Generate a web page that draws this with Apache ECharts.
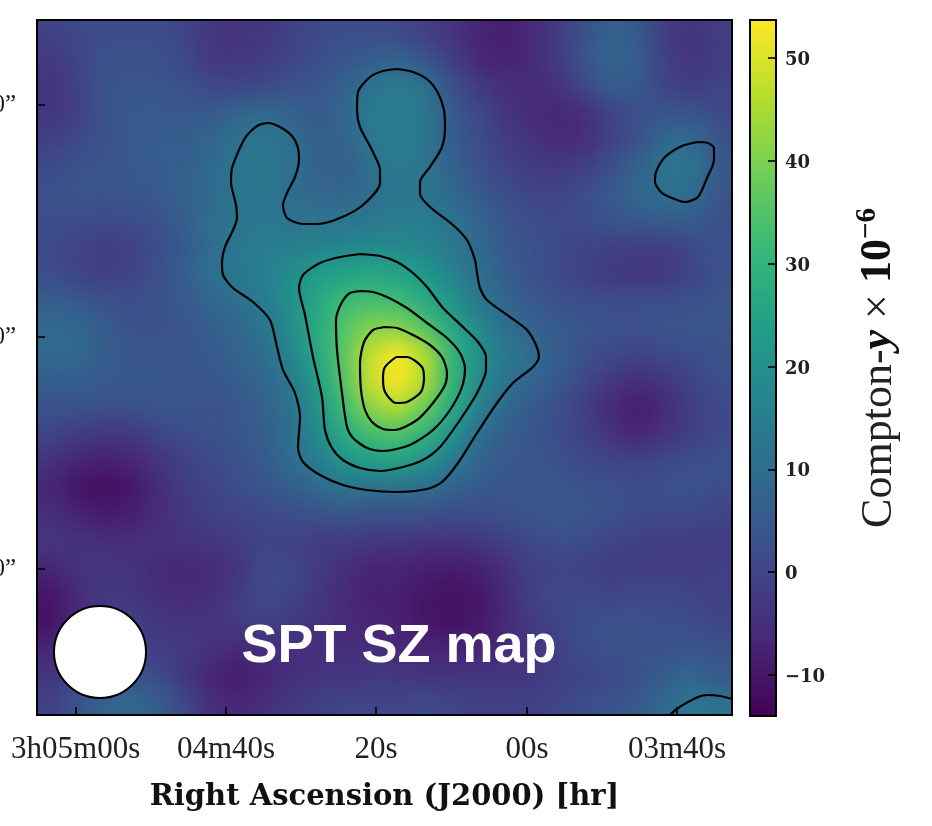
<!DOCTYPE html>
<html><head><meta charset="utf-8">
<style>
html,body{margin:0;padding:0;background:#fff;width:932px;height:826px;overflow:hidden}
#clip{position:absolute;left:37px;top:20px;width:695px;height:695px;overflow:hidden;background:#39568c}
#map{position:absolute;left:-27px;top:-27px;width:749px;height:749px;filter:blur(11px)}
#chart{position:absolute;left:0;top:0;width:932px;height:826px}
</style>
<script src="https://cdn.jsdelivr.net/npm/echarts@6/dist/echarts.min.js"></script>
</head><body>
<div id="clip"><div id="map"></div></div>
<div id="chart"></div>
<script>
// Compton-y (x 1e-6), rows top to bottom, columns left to right
const comptonRows = [
[0,0,1,2,2,2,0,-3,-4,-3,-1,1,2,2,1,-1,-4,-7,-8,-6,-2,3,6,4,-2,-3,-2,0],
[0,-1,1,2,2,2,0,-3,-4,-3,-1,1,2,2,1,-1,-4,-7,-8,-6,-2,3,7,5,-2,-4,-2,0],
[-2,-3,0,3,3,3,1,-3,-3,-2,0,2,4,6,8,4,-1,-6,-8,-6,-2,4,8,6,-1,-4,-2,-1],
[-3,-4,-1,3,4,4,3,1,0,1,3,4,7,12,14,12,3,-2,-5,-6,-4,1,6,5,0,-2,0,0],
[-3,-4,-1,3,5,5,5,5,8,10,7,5,8,14,15,13,6,1,-3,-6,-7,-5,0,2,4,4,1,0],
[-1,-1,1,3,5,6,6,8,11,13,11,6,7,13,15,13,6,2,-2,-4,-6,-5,-1,3,9,10,4,2],
[1,1,3,4,5,6,6,9,12,14,11,7,6,11,14,12,7,3,0,-2,-3,-1,3,7,12,12,5,3],
[3,3,4,4,4,5,7,9,12,13,10,8,8,10,13,12,9,5,2,0,0,2,5,8,11,10,4,3],
[2,2,2,1,2,3,6,10,12,13,12,12,12,13,14,14,12,8,4,2,1,2,4,5,6,6,3,2],
[1,1,0,-2,-1,2,5,10,13,15,15,16,17,18,18,17,13,9,5,3,1,0,-1,-2,-2,1,3,3],
[2,2,0,-2,0,3,6,11,13,15,19,23,25,26,25,22,17,11,6,3,1,-1,-3,-3,-3,0,3,3],
[6,6,5,3,2,3,5,8,11,14,20,26,32,33,32,27,21,13,8,5,3,2,2,2,2,3,4,4],
[9,9,9,6,3,3,4,6,8,12,19,27,35,41,41,35,26,18,11,7,5,4,3,3,4,4,4,4],
[9,9,9,6,4,4,4,5,7,10,17,26,36,48,54,46,30,20,14,10,6,3,1,0,1,2,3,3],
[6,6,6,5,5,5,4,4,6,8,13,23,35,49,58,46,30,19,12,8,5,1,-3,-5,-3,0,3,3],
[3,3,3,3,3,4,4,3,4,7,11,20,32,42,46,38,27,16,9,5,2,-2,-6,-9,-6,-2,1,1],
[0,0,-2,-3,-3,0,2,3,4,6,11,18,27,33,34,29,21,11,6,4,2,-1,-4,-7,-4,-1,1,1],
[-4,-4,-7,-8,-7,-4,-1,1,3,5,10,15,21,24,25,21,14,8,5,4,3,1,0,0,1,2,3,3],
[-7,-7,-10,-12,-10,-6,-2,0,2,4,6,9,12,11,11,10,7,5,4,4,4,3,3,2,3,3,2,2],
[-5,-5,-7,-9,-8,-6,-3,-1,0,1,2,3,4,3,3,3,2,2,3,4,5,4,3,1,1,1,0,0],
[-3,-3,-4,-5,-5,-4,-4,-3,-2,0,-1,-2,-2,-3,-3,-4,-4,-3,-1,1,2,2,0,-1,-2,-2,-2,-2],
[-7,-7,-4,-3,-4,-6,-7,-6,-4,1,1,-2,-5,-7,-7,-8,-9,-8,-5,-1,0,-1,-2,-2,-2,-2,-1,-1],
[-10,-10,-6,-3,-3,-5,-6,-5,-2,1,0,-3,-6,-8,-8,-10,-11,-10,-6,-1,1,1,0,1,1,0,-1,-1],
[-11,-11,-6,-2,-1,-3,-4,-4,-2,0,-2,-4,-6,-7,-8,-10,-11,-10,-6,-2,0,2,3,3,2,2,0,0],
[-7,-7,-3,1,0,-2,-2,-4,-6,-6,-5,-5,-5,-5,-6,-7,-7,-7,-6,-4,-1,2,3,3,3,4,3,3],
[-4,-4,1,3,3,2,-3,-7,-9,-7,-5,-4,-4,-3,-3,-4,-4,-4,-3,-3,-1,0,1,3,6,8,5,5],
[-1,-1,3,7,9,6,1,-5,-7,-5,-3,-1,0,0,0,1,0,-1,-1,-1,0,2,3,5,9,13,11,11],
[0,0,4,8,10,7,2,-4,-6,-4,-2,0,1,1,1,2,1,0,0,0,1,3,4,6,10,14,12,12]
];
const valueMin = -14, valueMax = 53.7;
const viridis = ['#440154','#482878','#3e4989','#31688e','#26828e','#1f9e89','#35b779','#6ece58','#b5de2b','#fde725'];

// contour lines, in map units (0..695 on both axes)
const contourOuter = [[360,646],[376,643],[391,635],[401,622],[407,605],[408,588],[405,568],[393,548],[383,533],[383,521],[393,508],[416,490],[430,475],[438,455],[440,442],[443,427],[450,415],[473,398],[490,385],[499,370],[502,358],[496,348],[476,332],[460,312],[440,282],[421,252],[405,233],[390,226],[360,223],[330,225],[306,230],[283,240],[266,253],[261,267],[263,298],[258,322],[246,345],[240,368],[233,395],[216,413],[196,427],[186,440],[185,452],[188,468],[200,497],[199,510],[194,533],[195,547],[208,577],[220,589],[231,592],[243,588],[255,579],[261,567],[262,555],[258,538],[250,522],[246,510],[250,497],[266,491],[280,491],[303,497],[326,510],[343,532],[343,545],[335,565],[323,588],[320,605],[321,623],[333,638],[346,644],[360,646]];
const contourSecond = [[323,461],[343,459],[360,453],[376,442],[390,428],[406,407],[426,388],[441,373],[449,358],[449,345],[440,322],[423,295],[403,268],[386,255],[366,248],[343,244],[323,247],[306,255],[295,267],[288,285],[285,318],[276,358],[268,400],[262,427],[266,440],[283,452],[303,458],[323,461]];
const contourThird = [[326,424],[336,423],[350,418],[370,407],[390,392],[410,377],[423,362],[428,347],[425,328],[413,305],[396,285],[373,270],[346,264],[330,267],[316,277],[310,288],[305,322],[300,365],[299,395],[305,413],[313,422],[326,424]];
const contourFourth = [[348,388],[360,387],[376,380],[393,370],[405,358],[410,342],[408,330],[396,312],[380,295],[358,285],[346,286],[335,293],[328,305],[324,325],[323,352],[327,373],[336,385],[348,388]];
const contourPeak = [[359,358],[370,358],[385,348],[387,336],[384,323],[370,313],[359,312],[348,323],[346,337],[348,348],[359,358]];
const contourBlobRight = [[660,573],[671,572],[677,567],[677,555],[670,537],[661,518],[648,513],[635,517],[625,522],[618,533],[619,543],[628,558],[645,569],[660,573]];
const contourCorner = [[633,0],[641,7],[661,18],[671,20],[683,19],[695,16]];
const contours = [contourOuter,contourSecond,contourThird,contourFourth,contourPeak,contourBlobRight,contourCorner];

const beam = [[63,63]];
const raTicks = [38.7,189,339,490,640];
const raLabels = ['3h05m00s','04m40s','20s','00s','03m40s'];
const decTicks = [146,378,610];
const decLabel = '0”';
const barTicks = [-10,0,10,20,30,40,50];

// colour layer
const mapChart = echarts.init(document.getElementById('map'));
const cols = comptonRows[0].map((_,i)=>String(i));
const rows = comptonRows.map((_,i)=>String(i));
const cells = [];
comptonRows.forEach((row,r)=>row.forEach((v,c)=>cells.push([c,r,v])));
mapChart.setOption({
  animation:false,
  grid:{left:0,right:0,top:0,bottom:0,outerBoundsMode:'none'},
  xAxis:{type:'category',data:cols,show:false},
  yAxis:{type:'category',data:rows,inverse:true,show:false},
  visualMap:{show:false,min:valueMin,max:valueMax,inRange:{color:viridis},seriesIndex:0},
  series:[{type:'heatmap',data:cells,itemStyle:{borderWidth:0},progressive:0}]
});

// axes, contours, colour bar
const serif='"Liberation Serif","DejaVu Serif",serif';
const slab='"DejaVu Serif",serif';
const chart = echarts.init(document.getElementById('chart'),null,{renderer:'canvas'});
chart.setOption({
  animation:false,
  backgroundColor:'transparent',
  grid:[
    {left:37,top:20,width:695,height:695,show:true,borderColor:'#000',borderWidth:2,backgroundColor:'transparent',z:6,outerBoundsMode:'none'},
    {left:750,top:20,width:26,height:696,show:true,borderColor:'#000',borderWidth:2,backgroundColor:'transparent',z:6,outerBoundsMode:'none'}
  ],
  xAxis:[
    {type:'value',gridIndex:0,min:0,max:695,splitLine:{show:false},
     axisLine:{show:true,lineStyle:{color:'#000',width:2}},
     axisTick:{show:true,inside:true,length:8,lineStyle:{color:'#000',width:1.6},customValues:raTicks},
     axisLabel:{customValues:raTicks,margin:19,color:'#222',fontFamily:serif,fontSize:31,hideOverlap:false,
       formatter:v=>raLabels[raTicks.indexOf(v)]},
     name:'Right Ascension (J2000) [hr]',nameLocation:'middle',nameGap:68,
     nameTextStyle:{color:'#111',fontFamily:slab,fontWeight:'bold',fontSize:29}},
    {type:'value',gridIndex:1,min:0,max:1,show:false}
  ],
  yAxis:[
    {type:'value',gridIndex:0,min:0,max:695,splitLine:{show:false},
     axisLine:{show:true,lineStyle:{color:'#000',width:2}},
     axisTick:{show:true,inside:true,length:8,lineStyle:{color:'#000',width:1.6},customValues:decTicks},
     axisLabel:{customValues:decTicks,margin:21,color:'#222',fontFamily:serif,fontSize:25,formatter:()=>decLabel}},
    {type:'value',gridIndex:1,min:valueMin,max:valueMax,position:'right',z:6,splitLine:{show:false},
     axisLine:{show:true,onZero:false,lineStyle:{color:'#000',width:2}},
     axisTick:{show:true,inside:true,length:8,lineStyle:{color:'#000',width:1.6},customValues:barTicks},
     axisLabel:{customValues:barTicks,margin:9,color:'#222',fontFamily:slab,fontWeight:'bold',fontSize:18,
       formatter:v=>'{n|'+String(v).replace('-','−')+'}',
       rich:{n:{fontFamily:slab,fontWeight:'bold',fontSize:18,color:'#222',padding:[5,0,0,0]}}},
     name:'{a|Compton-}{b|y}{a| × }{c|10}{d|−6}',nameLocation:'middle',nameRotate:90,nameGap:77,
     nameTextStyle:{rich:{
       a:{fontFamily:serif,fontSize:44,color:'#222'},
       b:{fontFamily:serif,fontSize:44,color:'#111',fontWeight:'bold',fontStyle:'italic'},
       c:{fontFamily:serif,fontSize:44,color:'#111',fontWeight:'bold'},
       d:{fontFamily:serif,fontSize:29,color:'#111',fontWeight:'bold',verticalAlign:'top',lineHeight:52}
     }}}
  ],
  visualMap:[{type:'continuous',seriesIndex:[],min:valueMin,max:valueMax,left:750,top:20,
    itemWidth:26,itemHeight:696,padding:0,text:null,showLabel:false,calculable:false,realtime:false,hoverLink:false,
    inRange:{color:viridis},z:2,textStyle:{color:'transparent'},formatter:()=>''}],
  graphic:[{type:'text',z:20,style:{text:'SPT SZ map',x:399,y:647,align:'center',verticalAlign:'middle',
    fill:'#fff',font:'bold 54px "Liberation Sans",Arial,sans-serif'}}],
  series:contours.map(pts=>({type:'line',xAxisIndex:0,yAxisIndex:0,data:pts,symbol:'none',smooth:0.25,clip:true,silent:true,
      lineStyle:{color:'#000',width:2.2},z:3})).concat([
    {type:'scatter',xAxisIndex:0,yAxisIndex:0,data:beam,symbol:'circle',symbolSize:92,silent:true,z:5,
      itemStyle:{color:'#fff',borderColor:'#000',borderWidth:2,opacity:1}}
  ])
});
</script>
</body></html>
